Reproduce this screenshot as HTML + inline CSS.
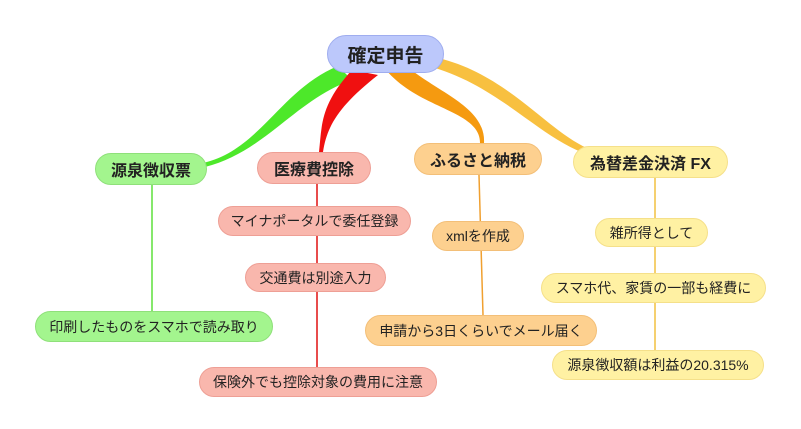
<!DOCTYPE html>
<html><head><meta charset="utf-8"><style>
body{margin:0;width:801px;height:429px;background:#fff;position:relative;overflow:hidden;font-family:"Liberation Sans","Noto Sans CJK JP",sans-serif;}
.n{position:absolute;box-sizing:border-box;border-radius:16px;display:flex;align-items:center;justify-content:center;font-size:14px;color:#222;white-space:nowrap;}
.b{font-weight:bold;font-size:16px;}
.g{background:#a3f58e;border:1px solid #8fe07a;}
.r{background:#f9b7ad;border:1px solid #ee9f95;}
.o{background:#fdd08f;border:1px solid #f3bf78;}
.y{background:#fff1a3;border:1px solid #f5e08a;}
svg{position:absolute;left:0;top:0;}
</style></head><body>
<svg width="801" height="429">
<path d="M152 185 V311" stroke="#5de03a" stroke-width="1.5" fill="none"/>
<path d="M317 184 V367" stroke="#e01010" stroke-width="1.5" fill="none"/>
<path d="M479 175 L483 315" stroke="#f0a030" stroke-width="1.5" fill="none"/>
<path d="M655 178 V350" stroke="#f2c040" stroke-width="1.5" fill="none"/>
<path d="M338 66 C280 90 260 150 203 163 L205 167 C265 152 295 100 352 80 Z" fill="#4de82a"/>
<path d="M352 70 C320 105 322 125 319 152 L323 152 C327 125 340 105 378 75 Z" fill="#f01010"/>
<path d="M386 70 C420 110 480 110 480 143 L484 143 C486 110 445 95 414 72 Z" fill="#f59a10"/>
<path d="M428 66 C500 85 540 140 590 155 L592 150 C550 135 510 75 438 58 Z" fill="#f8c040"/>
</svg>
<div class="n b" style="left:327px;top:35px;width:117px;height:38px;background:#bcc8fb;border:1px solid #9fadef;border-radius:19px;font-size:19px;">確定申告</div>
<div class="n b g" style="left:95px;top:153px;width:112px;height:32px;">源泉徴収票</div>
<div class="n b r" style="left:257px;top:152px;width:114px;height:32px;">医療費控除</div>
<div class="n b o" style="left:414px;top:143px;width:128px;height:32px;">ふるさと納税</div>
<div class="n b y" style="left:573px;top:146px;width:155px;height:32px;">為替差金決済 FX</div>
<div class="n r" style="left:218px;top:206px;width:193px;height:30px;">マイナポータルで委任登録</div>
<div class="n r" style="left:245px;top:263px;width:141px;height:29px;">交通費は別途入力</div>
<div class="n r" style="left:199px;top:367px;width:238px;height:30px;">保険外でも控除対象の費用に注意</div>
<div class="n g" style="left:35px;top:311px;width:238px;height:31px;">印刷したものをスマホで読み取り</div>
<div class="n o" style="left:432px;top:221px;width:92px;height:30px;">xmlを作成</div>
<div class="n o" style="left:365px;top:315px;width:232px;height:31px;">申請から3日くらいでメール届く</div>
<div class="n y" style="left:595px;top:218px;width:113px;height:29px;">雑所得として</div>
<div class="n y" style="left:541px;top:273px;width:225px;height:30px;">スマホ代、家賃の一部も経費に</div>
<div class="n y" style="left:552px;top:350px;width:212px;height:30px;">源泉徴収額は利益の20.315%</div>
</body></html>
